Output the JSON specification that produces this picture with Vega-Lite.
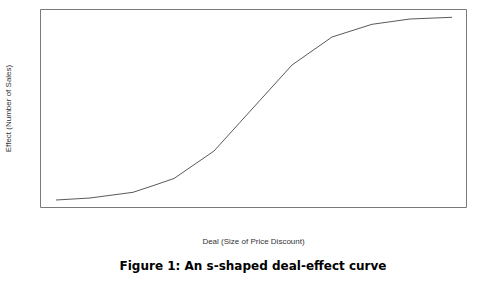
{
  "$schema": "https://vega.github.io/schema/vega-lite/v6.json",
  "width": 426,
  "height": 198,
  "autosize": "none",
  "padding": {"left": 40, "top": 9, "right": 11, "bottom": 79},
  "background": "white",
  "config": {"view": {"stroke": "#7a7a7a", "strokeWidth": 1}, "font": "Liberation Sans"},
  "title": {
    "text": "Figure 1: An s-shaped deal-effect curve",
    "orient": "bottom",
    "anchor": "middle",
    "font": "DejaVu Sans",
    "fontWeight": "bold",
    "fontSize": 12,
    "color": "#000000",
    "offset": 16
  },
  "data": {
    "values": [
      {"deal": 0, "effect": 0},
      {"deal": 34, "effect": 2},
      {"deal": 77, "effect": 7.7},
      {"deal": 99, "effect": 15},
      {"deal": 118, "effect": 21.5},
      {"deal": 158, "effect": 49},
      {"deal": 184, "effect": 77.7},
      {"deal": 204, "effect": 99.7},
      {"deal": 236, "effect": 135},
      {"deal": 276, "effect": 163},
      {"deal": 316, "effect": 175.7},
      {"deal": 354, "effect": 181},
      {"deal": 396, "effect": 182.7}
    ]
  },
  "mark": {"type": "line", "color": "#5a5a5a", "strokeWidth": 1},
  "encoding": {
    "x": {
      "field": "deal",
      "type": "quantitative",
      "scale": {"domain": [-16, 410], "nice": false, "zero": false},
      "axis": {
        "title": "Deal (Size of Price Discount)",
        "labels": false, "ticks": false, "domain": false, "grid": false,
        "titlePadding": 30, "titleFontSize": 8, "titleFontWeight": "normal",
        "titleColor": "#333333", "titleFont": "Liberation Sans"
      }
    },
    "y": {
      "field": "effect",
      "type": "quantitative",
      "scale": {"domain": [-7, 191], "nice": false, "zero": false},
      "axis": {
        "title": "Effect (Number of Sales)",
        "labels": false, "ticks": false, "domain": false, "grid": false,
        "titlePadding": 28, "titleFontSize": 8, "titleFontWeight": "normal",
        "titleColor": "#333333", "titleFont": "Liberation Sans"
      }
    }
  }
}
